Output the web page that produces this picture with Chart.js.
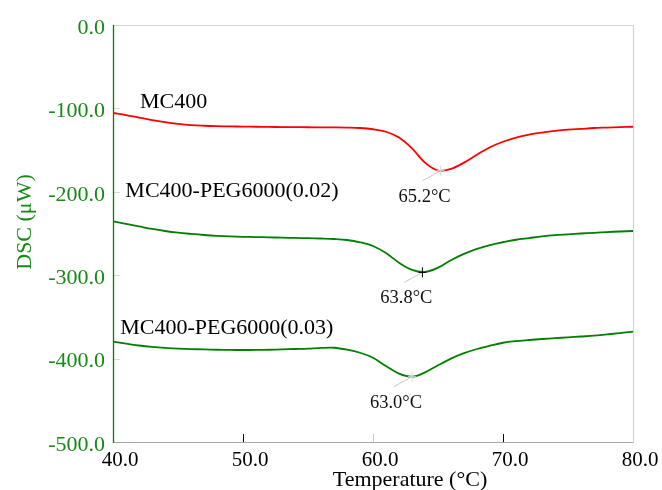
<!DOCTYPE html>
<html>
<head>
<meta charset="utf-8">
<script src="https://cdn.jsdelivr.net/npm/chart.js@4/dist/chart.umd.min.js"></script>
<style>
html,body{margin:0;padding:0;background:#fff;}
#wrap{width:662px;height:490px;position:relative;}
</style>
</head>
<body>
<div id="wrap"><canvas id="c" width="662" height="490"></canvas></div>
<script>
// Temperature (°C)
const temps = [40,41,42,43,44,45,46,47,48,49,50,51,52,53,54,55,56,57,58,59,60,61,62,63,64,65,66,67,68,69,70,71,72,73,74,75,76,77,78,79,80];
// DSC (µW)
const mc400 = [-105.5,-108,-111,-114,-116.5,-118.5,-120,-120.8,-121.3,-121.6,-121.8,-122,-122.2,-122.4,-122.5,-122.6,-122.7,-122.8,-123,-123.5,-125,-128,-135,-148,-165,-174.5,-172.5,-165,-155.5,-146.5,-140,-135,-131.5,-129,-127,-125.5,-124.5,-123.5,-123,-122.5,-122];
const peg002 = [-235.5,-238.5,-241.5,-244.5,-247,-249,-250.5,-251.8,-252.8,-253.5,-254,-254.3,-254.6,-255,-255.3,-255.6,-256,-256.6,-257.8,-260.5,-265,-273.5,-285,-293.5,-296,-291,-282,-274.5,-268.5,-263.8,-260.5,-257.5,-255.5,-253.5,-252,-251,-250,-249.2,-248.3,-247.6,-247];
const peg003 = [-379.7,-382,-384.3,-386,-387.2,-388,-388.6,-389,-389.4,-389.6,-389.7,-389.6,-389.4,-389,-388.5,-388,-387.2,-387,-389.3,-393,-399,-409,-418,-421.7,-416.5,-408,-400,-393.5,-388.5,-384.5,-381,-379,-377.7,-376.5,-375.5,-374.5,-373.5,-372.5,-371,-369.5,-367.7];
const seriesNames = ["MC400","MC400-PEG6000(0.02)","MC400-PEG6000(0.03)"];
const peakTemps = [65.2, 63.8, 63.0];
const peakValues = [-174.7, -296.6, -421.7];
const xTicks = [40,50,60,70,80];
const yTicks = [0,-100,-200,-300,-400,-500];

const GREEN = 'rgb(0,128,0)';
const TXTGREEN = 'rgb(22,138,22)';
const FONT = '"Liberation Serif","Times New Roman",serif';

function pts(ys){ return temps.map((t,i)=>({x:t,y:ys[i]})); }

const decor = {
  id:'decor',
  beforeDatasetsDraw(chart){
    const {ctx, chartArea:a, scales:{x,y}} = chart;
    ctx.save();
    ctx.lineWidth = 1.2;
    ctx.strokeStyle = '#d4d4d4';
    ctx.beginPath();
    ctx.moveTo(a.left, a.top+0.5); ctx.lineTo(a.right+0.5, a.top+0.5);
    ctx.lineTo(a.right+0.5, a.bottom);
    ctx.stroke();
    ctx.strokeStyle = '#a8a8a8';
    ctx.beginPath(); ctx.moveTo(a.left, a.bottom+0.5); ctx.lineTo(a.right+0.5, a.bottom+0.5); ctx.stroke();
    ctx.strokeStyle = '#cfe3cf';
    ctx.lineWidth = 1;
    yTicks.forEach(v=>{ if(v===0||v===-500) return; const py=Math.round(y.getPixelForValue(v))+0.5; ctx.beginPath(); ctx.moveTo(a.left,py); ctx.lineTo(a.left+7,py); ctx.stroke();});
    const xc = {50:'#000',60:'#c8c8c8',70:'#000'};
    xTicks.forEach(v=>{ if(!xc[v]) return; const px=Math.round(x.getPixelForValue(v))+0.5; ctx.strokeStyle=xc[v]; ctx.beginPath(); ctx.moveTo(px,a.bottom); ctx.lineTo(px,a.bottom-8); ctx.stroke();});
    ctx.strokeStyle = GREEN; ctx.lineWidth = 1.3;
    ctx.beginPath(); ctx.moveTo(a.left+0.5, a.top); ctx.lineTo(a.left+0.5, a.bottom+1); ctx.stroke();
    ctx.restore();
  },
  afterDatasetsDraw(chart){
    const {ctx, chartArea:a, scales:{x,y}} = chart;
    ctx.save();
    peakTemps.forEach((t,i)=>{
      const px = x.getPixelForValue(t), py = y.getPixelForValue(peakValues[i]);
      ctx.strokeStyle = '#c8c8c8'; ctx.lineWidth = 1;
      ctx.beginPath(); ctx.moveTo(px,py); ctx.lineTo(px-18,py+10); ctx.stroke();
      ctx.strokeStyle = i===1 ? '#000' : '#d8d8d8';
      ctx.beginPath(); ctx.moveTo(px-4,py); ctx.lineTo(px+4,py); ctx.moveTo(px,py-5); ctx.lineTo(px,py+5); ctx.stroke();
      ctx.fillStyle = '#111';
      ctx.font = '18.5px ' + FONT;
      ctx.textAlign = 'center'; ctx.textBaseline = 'middle';
      ctx.fillText(t.toFixed(1)+'\u00B0C', px-16, py+26);
    });
    ctx.fillStyle = '#000';
    ctx.font = '22px ' + FONT;
    ctx.textAlign = 'left'; ctx.textBaseline = 'middle';
    const nameAnchors = [[42.08, mc400[0]], [40.95, peg002[0]], [40.55, peg003[0]]];
    const nameOffsets = [-11, -30, -13];
    seriesNames.forEach((n,i)=>{
      ctx.fillText(n, x.getPixelForValue(nameAnchors[i][0]), y.getPixelForValue(nameAnchors[i][1]) + nameOffsets[i]);
    });
    ctx.font = '22px ' + FONT;
    ctx.fillStyle = '#000'; ctx.textAlign='center';
    ctx.fillText('Temperature (\u00B0C)', 410, 480);
    ctx.save();
    ctx.translate(25, 222); ctx.rotate(-Math.PI/2);
    ctx.fillStyle = TXTGREEN;
    ctx.fillText('DSC (\u03BCW)', 0, 0);
    ctx.restore();
    ctx.restore();
  }
};

new Chart(document.getElementById('c'), {
  type:'line',
  data:{ datasets:[
    {label:seriesNames[0], data:pts(mc400), borderColor:'#ff0000', borderWidth:1.8, pointRadius:0, tension:0.35, fill:false},
    {label:seriesNames[1], data:pts(peg002), borderColor:GREEN, borderWidth:1.8, pointRadius:0, tension:0.35, fill:false},
    {label:seriesNames[2], data:pts(peg003), borderColor:GREEN, borderWidth:1.8, pointRadius:0, tension:0.35, fill:false}
  ]},
  options:{
    responsive:false, animation:false, devicePixelRatio:1,
    layout:{padding:{top:25,right:29,left:0,bottom:0}},
    plugins:{legend:{display:false}, tooltip:{enabled:false}},
    scales:{
      x:{type:'linear', min:40, max:80,
        afterBuildTicks(s){ s.ticks = xTicks.map(v=>({value:v})); },
        afterFit(s){ s.height = 48; },
        grid:{display:false, drawTicks:false}, border:{display:false},
        ticks:{color:'#000', font:{family:FONT, size:21}, padding:6, labelOffset:7, maxRotation:0, autoSkip:false,
          callback:v=>Number(v).toFixed(1)}
      },
      y:{type:'linear', min:-500, max:0,
        afterBuildTicks(s){ s.ticks = yTicks.map(v=>({value:v})); },
        afterFit(s){ s.width = 113; },
        grid:{display:false, drawTicks:false}, border:{display:false},
        ticks:{color:TXTGREEN, font:{family:FONT, size:22}, padding:8, labelOffset:3, autoSkip:false,
          callback:v=>Number(v).toFixed(1)}
      }
    }
  },
  plugins:[decor]
});
</script>
</body>
</html>
